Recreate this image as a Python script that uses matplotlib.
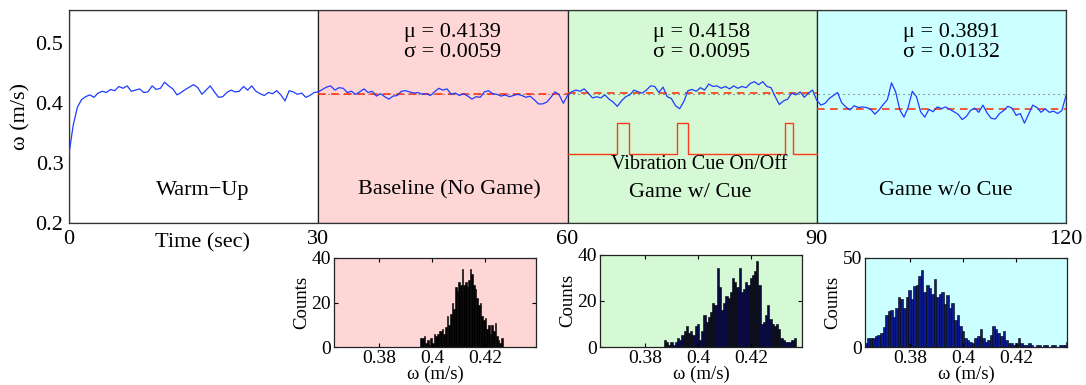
import matplotlib
matplotlib.use("Agg")
import matplotlib.pyplot as plt
import numpy as np

plt.rcParams['font.family'] = ['Liberation Serif', 'DejaVu Serif']
plt.rcParams['mathtext.fontset'] = 'stix'

# ---------------------------------------------------------------------------
# DATA
# ---------------------------------------------------------------------------
# omega (m/s) sampled every 0.5 s
warmup_vals = [0.315, 0.362, 0.392, 0.405, 0.410, 0.413, 0.409, 0.416, 0.419, 0.417,
               0.422, 0.420, 0.427, 0.424, 0.428, 0.419, 0.421, 0.423, 0.417, 0.418,
               0.428, 0.422, 0.424, 0.434, 0.428, 0.423, 0.413, 0.417, 0.422, 0.426,
               0.430, 0.425, 0.414, 0.421, 0.428, 0.418, 0.409, 0.410, 0.417, 0.421,
               0.418, 0.419, 0.427, 0.421, 0.428, 0.419, 0.415, 0.412, 0.417, 0.415,
               0.420, 0.413, 0.403, 0.420, 0.418, 0.414, 0.416, 0.409, 0.412, 0.417]
baseline_vals = [0.418, 0.422, 0.426, 0.428, 0.421, 0.425, 0.424, 0.417, 0.419, 0.414,
                 0.418, 0.423, 0.417, 0.419, 0.411, 0.415, 0.410, 0.406, 0.411, 0.412,
                 0.419, 0.420, 0.418, 0.416, 0.417, 0.414, 0.415, 0.412, 0.418, 0.424,
                 0.421, 0.423, 0.414, 0.416, 0.412, 0.415, 0.411, 0.406, 0.410, 0.409,
                 0.418, 0.420, 0.415, 0.414, 0.411, 0.413, 0.410, 0.412, 0.414, 0.412,
                 0.409, 0.411, 0.405, 0.398, 0.398, 0.401, 0.409, 0.418, 0.413, 0.399]
cue_vals = [0.412, 0.418, 0.421, 0.419, 0.423, 0.416, 0.408, 0.410, 0.408, 0.413,
            0.406, 0.401, 0.394, 0.403, 0.410, 0.413, 0.421, 0.418, 0.416, 0.421,
            0.428, 0.427, 0.417, 0.426, 0.410, 0.407, 0.395, 0.390, 0.402, 0.420,
            0.422, 0.419, 0.425, 0.421, 0.431, 0.427, 0.428, 0.424, 0.427, 0.423,
            0.428, 0.424, 0.427, 0.425, 0.432, 0.435, 0.430, 0.435, 0.427, 0.425,
            0.410, 0.397, 0.403, 0.406, 0.416, 0.413, 0.418, 0.409, 0.416, 0.421]
nocue_vals = [0.404, 0.396, 0.399, 0.407, 0.412, 0.417, 0.400, 0.393, 0.388, 0.395,
              0.392, 0.393, 0.392, 0.389, 0.381, 0.388, 0.397, 0.405, 0.433, 0.418,
              0.388, 0.376, 0.392, 0.419, 0.410, 0.385, 0.376, 0.389, 0.385, 0.393,
              0.390, 0.393, 0.389, 0.385, 0.381, 0.372, 0.377, 0.387, 0.391, 0.384,
              0.396, 0.383, 0.374, 0.373, 0.382, 0.387, 0.394, 0.391, 0.379, 0.382,
              0.366, 0.381, 0.396, 0.392, 0.384, 0.390, 0.384, 0.386, 0.382, 0.387,
              0.412]
sample_dt = 0.5

phase_edges = [0, 30, 60, 90, 120]
phase_names = ['Warm\u2212Up', 'Baseline (No Game)', 'Game w/ Cue', 'Game w/o Cue']
phase_colors = ['white', '#ffd6d6', '#d4f9d4', '#ccffff']
phase_mu = [None, 0.4139, 0.4158, 0.3891]
phase_sigma = [None, 0.0059, 0.0095, 0.0132]
label_x = [16.1, 45.8, 74.8, 105.5]
label_y = [0.2537, 0.2548, 0.2503, 0.2548]
stats_x = [None, 46.2, 76.1, 106.2]

# vibration cue on/off intervals (s)
cue_on = [(66.0, 67.4), (73.2, 74.5), (86.2, 87.2)]
cue_low, cue_high = 0.3146, 0.366

# histograms: bin range and counts
h1_range = (0.3955, 0.4265)
h1_counts = [4, 4, 5, 2, 3, 1, 4, 2, 6, 5, 6, 7, 7, 8, 6, 9, 14, 10, 15, 20,
             17, 27, 25, 29, 28, 35, 28, 29, 27, 30, 35, 33, 28, 26, 22, 19, 20, 14, 12, 13,
             8, 10, 6, 10, 7, 11, 5, 3, 2, 4]
h2_range = (0.387, 0.4367)
h2_counts = [3, 2, 1, 2, 1, 2, 4, 3, 5, 7, 9, 6, 7, 5, 9, 10, 3, 7, 14, 11,
             13, 15, 19, 18, 34, 26, 16, 19, 22, 21, 24, 30, 28, 26, 34, 24, 25, 28, 27, 30,
             31, 33, 37, 27, 10, 11, 14, 18, 12, 10, 9, 10, 8, 4, 3, 2, 2, 2, 3, 4]
h3_range = (0.3629, 0.4397)
h3_counts = [2, 5, 5, 5, 6, 7, 8, 11, 18, 20, 21, 17, 22, 28, 27, 22, 28, 32, 27, 34,
             35, 40, 43, 31, 35, 33, 30, 38, 28, 30, 31, 24, 29, 22, 25, 15, 18, 12, 9, 5,
             4, 3, 2, 5, 6, 10, 5, 3, 4, 7, 12, 10, 8, 6, 9, 4, 2, 2, 1, 2,
             5, 2, 1, 1, 2, 1, 0, 1, 1, 0, 1, 1, 0, 1, 1, 0, 1, 1, 1, 3]

# ---------------------------------------------------------------------------
# MAIN TIME SERIES
# ---------------------------------------------------------------------------
W, H = 1086, 385
fig = plt.figure(figsize=(W / 100, H / 100), dpi=100)

ax = fig.add_axes([69 / W, 1 - 223 / H, 997 / W, 213.5 / H])

omega = np.array(warmup_vals + baseline_vals + cue_vals + nocue_vals)
t = np.arange(len(omega)) * sample_dt

for i in range(4):
    ax.axvspan(phase_edges[i], phase_edges[i + 1], facecolor=phase_colors[i],
               edgecolor='#222222', lw=0.9, zorder=0)

# reference (baseline mean) dotted line and phase means
ax.plot([30, 120], [phase_mu[1], phase_mu[1]], ls=(0, (1, 3.5)), color='#555555', lw=0.8, zorder=2)
for i in range(1, 4):
    ax.plot([phase_edges[i], phase_edges[i + 1]], [phase_mu[i], phase_mu[i]],
            ls=(0, (5, 3.5)), color='#ff2a00', lw=1.1, zorder=2)

ax.plot(t, omega, color='#1f3cff', lw=0.9, zorder=3)

# vibration cue step signal
cx, cy = [60], [cue_low]
for a, b in cue_on:
    cx += [a, a, b, b]
    cy += [cue_low, cue_high, cue_high, cue_low]
cx.append(90)
cy.append(cue_low)
ax.plot(cx, cy, color='#ff3a1a', lw=1.0, zorder=3)

for i in range(4):
    ax.text(label_x[i], label_y[i], phase_names[i], ha='center', va='center', fontsize=16)
    if phase_mu[i] is not None:
        ax.text(stats_x[i], 0.5168, f'\u03bc = {phase_mu[i]:.4f}', ha='center', va='center', fontsize=16)
        ax.text(stats_x[i], 0.483, f'\u03c3 = {phase_sigma[i]:.4f}', ha='center', va='center', fontsize=16)
ax.text(75.8, 0.2975, 'Vibration Cue On/Off', ha='center', va='center', fontsize=14.5)

ax.set_xlim(0, 120)
ax.set_ylim(0.2, 0.555)
ax.set_xticks(phase_edges)
ax.set_yticks([0.2, 0.3, 0.4, 0.5])
ax.set_yticklabels(['0.2', '0.3', '0.4', '0.5'])
ax.tick_params(length=0, labelsize=16, pad=4)
ax.tick_params(axis='x', pad=5)
ax.set_ylabel('\u03c9 (m/s)', fontsize=16, labelpad=4)
ax.text(16.1, -0.095, 'Time (sec)', transform=ax.get_xaxis_transform(),
        ha='center', va='center', fontsize=16)
for s in ax.spines.values():
    s.set_color('#333333')
    s.set_linewidth(0.9)

# ---------------------------------------------------------------------------
# HISTOGRAMS
# ---------------------------------------------------------------------------
hists = [
    (334, 258, h1_range, h1_counts, phase_colors[1], '#000000', 40, [0, 20, 40]),
    (600, 254.5, h2_range, h2_counts, phase_colors[2], '#0a0a40', 40, [0, 20, 40]),
    (865, 258, h3_range, h3_counts, phase_colors[3], '#0c1a8c', 50, [0, 50]),
]
for left, top, rng, counts, bg, fc, ymax, yt in hists:
    hx = fig.add_axes([left / W, 1 - 347 / H, 202 / W, (347 - top) / H])
    hx.set_facecolor(bg)
    edges = np.linspace(rng[0], rng[1], len(counts) + 1)
    hx.bar(edges[:-1], counts, width=np.diff(edges), align='edge',
           color=fc, edgecolor='black', lw=0.4)
    hx.set_xlim(0.363, 0.439)
    hx.set_ylim(0, ymax)
    hx.set_xticks([0.38, 0.4, 0.42])
    hx.set_xticklabels(['0.38', '0.4', '0.42'])
    hx.set_yticks(yt)
    hx.tick_params(direction='in', length=3, top=True, right=True, labelsize=14, pad=2)
    hx.set_xlabel('\u03c9 (m/s)', fontsize=13.5, labelpad=-1)
    hx.set_ylabel('Counts', fontsize=13.5, labelpad=1)
    for s in hx.spines.values():
        s.set_color('#222222')
        s.set_linewidth(0.9)

fig.savefig('out.png', dpi=100)
